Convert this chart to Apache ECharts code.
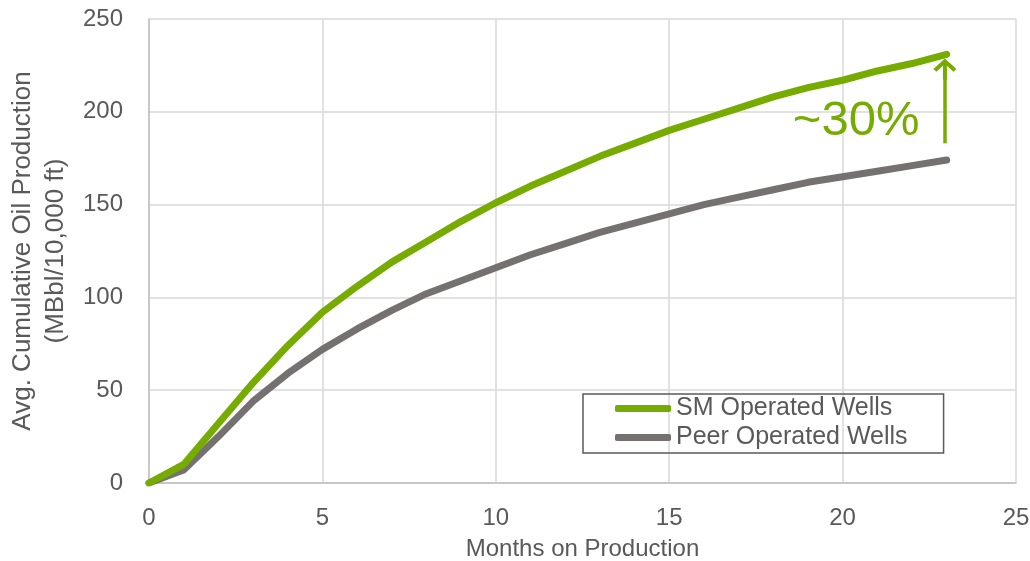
<!DOCTYPE html>
<html>
<head>
<meta charset="utf-8">
<script src="https://cdn.jsdelivr.net/npm/echarts@6/dist/echarts.min.js"></script>
<style>html,body{margin:0;padding:0;background:#fff}#c{width:1030px;height:561px}</style>
</head>
<body>
<div id="c"></div>
<script>
const months = [0,1,2,3,4,5,6,7,8,9,10,11,12,13,14,15,16,17,18,19,20,21,22,23];
const smWells = [0,10,32,54,74,92,106,119,130,141,151,160,168,176,183,190,196,202,208,213,217,222,226,231];
const peerWells = [0,7,25,44,59,72,83,93,102,109,116,123,129,135,140,145,150,154,158,162,165,168,171,174];
const xTicks = [0,5,10,15,20,25];
const yTicks = [0,50,100,150,200,250];
const annotationText = '~30%';
const arrowFrom = [22.95, 183];
const arrowTo = [22.95, 223];
const labelAt = [20.39, 195];

const green = '#76AB00';
const gray = '#767171';
const txt = '#595959';
const font = 'Liberation Sans, Arial, sans-serif';
const chevron = 'path://M0,10 L10,0 L20,10 L17.4,12.6 L11.7,6.9 L11.7,20 L8.3,20 L8.3,6.9 L2.6,12.6 Z';

const chart = echarts.init(document.getElementById('c'), null, {renderer:'canvas'});
chart.setOption({
  animation:false,
  backgroundColor:'#fff',
  textStyle:{fontFamily:font},
  grid:{left:149,right:14,top:19,bottom:78,containLabel:false,outerBoundsMode:'none'},
  legend:{
    left:583, top:394, orient:'vertical',
    itemWidth:56, itemHeight:7, itemGap:4, icon:'roundRect',
    padding:[2,36,3,32],
    borderColor:'#595959', borderWidth:1.5,
    textStyle:{color:txt,fontSize:25,fontFamily:font},
    data:['SM Operated Wells','Peer Operated Wells']
  },
  xAxis:{
    type:'value', min:xTicks[0], max:xTicks[xTicks.length-1], interval:5,
    name:'Months on Production', nameLocation:'middle', nameGap:54,
    nameTextStyle:{color:txt,fontSize:24,fontFamily:font},
    axisLine:{lineStyle:{color:'#bfbfbf',width:1.5}},
    axisTick:{show:false},
    axisLabel:{color:txt,fontSize:24,margin:23,fontFamily:font},
    splitLine:{show:true,lineStyle:{color:'#d9d9d9',width:1.5}}
  },
  yAxis:{
    type:'value', min:yTicks[0], max:yTicks[yTicks.length-1], interval:50,
    name:'Avg. Cumulative Oil Production\n(MBbl/10,000 ft)', nameLocation:'middle', nameGap:58,
    nameTextStyle:{color:txt,fontSize:26,lineHeight:33,fontFamily:font},
    axisLine:{show:true,lineStyle:{color:'#bfbfbf',width:1.5}},
    axisTick:{show:false},
    axisLabel:{color:txt,fontSize:24,margin:26,fontFamily:font},
    splitLine:{show:true,lineStyle:{color:'#d9d9d9',width:1.5}}
  },
  series:[
    {
      name:'Peer Operated Wells', type:'line', showSymbol:false, symbol:'none',
      data:months.map((m,i)=>[m,peerWells[i]]),
      lineStyle:{color:gray,width:7,cap:'round',join:'round'},
      itemStyle:{color:gray}, z:2
    },
    {
      name:'SM Operated Wells', type:'line', showSymbol:false, symbol:'none',
      data:months.map((m,i)=>[m,smWells[i]]),
      lineStyle:{color:green,width:7,cap:'round',join:'round'},
      itemStyle:{color:green}, z:3,
      markLine:{
        silent:true, symbol:['none',chevron], symbolSize:[23,21],
        label:{show:false},
        lineStyle:{color:green,width:3.5,type:'solid',opacity:1},
        itemStyle:{color:green},
        data:[[{coord:arrowFrom},{coord:arrowTo}]]
      },
      markPoint:{
        silent:true, symbol:'circle', symbolSize:1, itemStyle:{color:'rgba(0,0,0,0)'},
        label:{show:true,position:'inside',formatter:annotationText,color:green,fontSize:49,fontFamily:font},
        data:[{coord:labelAt}]
      }
    }
  ]
});
</script>
</body>
</html>
